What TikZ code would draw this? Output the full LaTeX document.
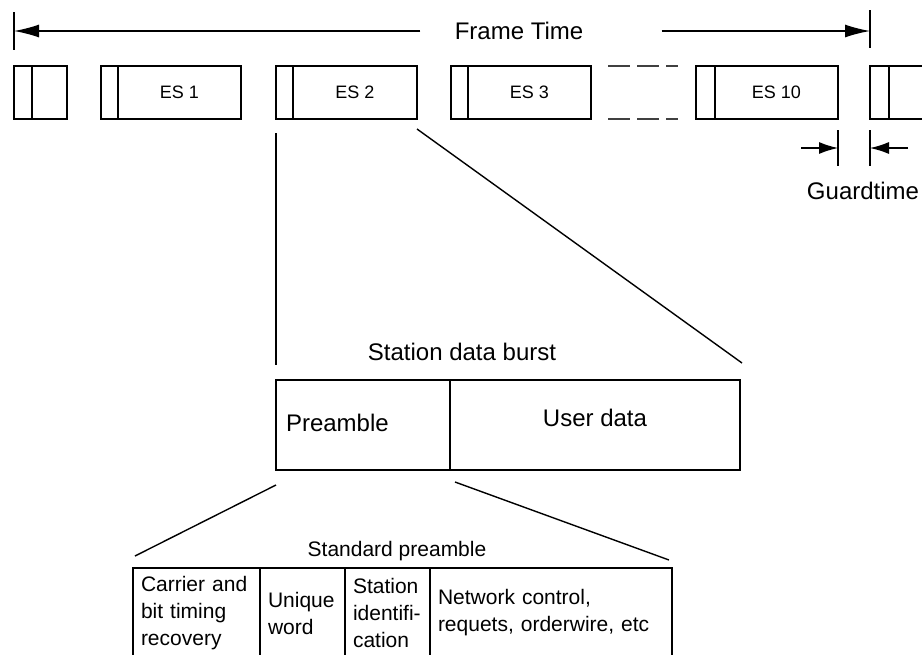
\documentclass[tikz,border=0pt]{standalone}
\usepackage{fontspec}
\setmainfont{Liberation Sans}
\usetikzlibrary{arrows.meta,positioning}

\tikzset{
  every node/.style={outer sep=0pt},
  lbl/.style={font=\fontsize{24}{28}\selectfont},
  slot/.style={draw,line width=1.5pt,minimum height=53pt,inner sep=0pt,anchor=north west,font=\fontsize{18}{20}\selectfont},
  box/.style={draw,line width=1.5pt,minimum height=90pt,inner xsep=10pt,anchor=north west,align=left,font=\fontsize{24}{28}\selectfont},
  cell/.style={draw,line width=1.5pt,minimum height=90pt,inner xsep=8pt,inner ysep=0pt,anchor=north west,align=left,font=\fontsize{21}{27}\selectfont},
  link/.style={line width=1.4pt},
  tick/.style={line width=1.3pt},
  bigarrow/.style={line width=1.3pt,-{Latex[length=25pt,width=13pt]}},
  smallarrow/.style={line width=1.3pt,-{Latex[length=19pt,width=12pt]}},
}

\begin{document}
\begin{tikzpicture}[x=1pt,y=-1pt]
\useasboundingbox (0,0) rectangle (922,654);

% frame time
\node[lbl] (ft) at (519,31) {Frame Time};
\coordinate (ftl) at (14,31);
\coordinate (ftr) at (870,31);
\draw[tick] (14,12) -- (14,50);
\draw[tick] (870,10) -- (870,48);
\draw[bigarrow] ([xshift=-31pt]ft.west) -- (ftl);
\draw[bigarrow] ([xshift=75pt]ft.east) -- (ftr);

% station bursts
\node[slot,minimum width=18pt] (p0) at (14,66) {};
\node[slot,minimum width=35pt,right=0pt of p0] (f0) {};
\node[slot,minimum width=17pt] (p1) at (101,66) {};
\node[slot,minimum width=123pt,right=0pt of p1] (es1) {ES 1};
\node[slot,minimum width=17pt] (p2) at (276,66) {};
\node[slot,minimum width=124pt,right=0pt of p2] (es2) {ES 2};
\node[slot,minimum width=17pt] (p3) at (451,66) {};
\node[slot,minimum width=123pt,right=0pt of p3] (es3) {ES 3};
\node[slot,minimum width=19pt] (p10) at (696,66) {};
\node[slot,minimum width=123pt,right=0pt of p10] (es10) {ES 10};
\node[slot,minimum width=19pt] (p11) at (870,66) {};
\node[slot,minimum width=60pt,right=0pt of p11] (f11) {};

\draw[link,black!75,dash pattern=on 22pt off 7pt] ([xshift=17pt]es3.north east) -- ([xshift=-18pt]p10.north west);
\draw[link,black!75,dash pattern=on 22pt off 7pt] ([xshift=17pt]es3.south east) -- ([xshift=-18pt]p10.south west);

% guardtime
\coordinate (g1) at (838,148);
\coordinate (g2) at (870,148);
\coordinate (g1t) at (801,148);
\coordinate (g2t) at (908,148);
\draw[tick] (838,130) -- (838,166);
\draw[tick] (870,130) -- (870,166);
\draw[smallarrow] (g1t) -- (g1);
\draw[smallarrow] (g2t) -- (g2);
\node[lbl] (gt) at (863,191) {Guardtime};

% station data burst
\node[lbl] (sdb) at (462,352) {Station data burst};
\node[box,minimum width=174pt,text width=154pt,text depth=5pt] (pre) at (276,380) {Preamble};
\node[box,minimum width=290pt,align=center,text depth=14pt,right=0pt of pre] (user) {User data};

\draw[link] ([yshift=-14pt]p2.south west) -- ([yshift=15pt]pre.north west);
\draw[link] ([yshift=-10pt]es2.south east) -- ([shift={(2pt,17pt)}]user.north east);

% standard preamble
\node[font=\fontsize{21}{24}\selectfont] (sp) at (397,551) {Standard preamble};
\node[cell,text width=111pt] (c1) at (133,568) {Carrier and\\bit timing\\recovery};
\node[cell,text width=69pt,right=0pt of c1] (c2) {Unique\\word};
\node[cell,text width=69pt,right=0pt of c2] (c3) {Station\\identifi-\\cation};
\node[cell,text width=226pt,right=0pt of c3] (c4) {Network control,\\requets, orderwire, etc};

\draw[link] ([yshift=-15pt]pre.south west) -- ([shift={(2pt,12pt)}]c1.north west);
\draw[link] ([shift={(5pt,-12pt)}]pre.south east) -- ([shift={(-3pt,8pt)}]c4.north east);
\end{tikzpicture}
\end{document}
